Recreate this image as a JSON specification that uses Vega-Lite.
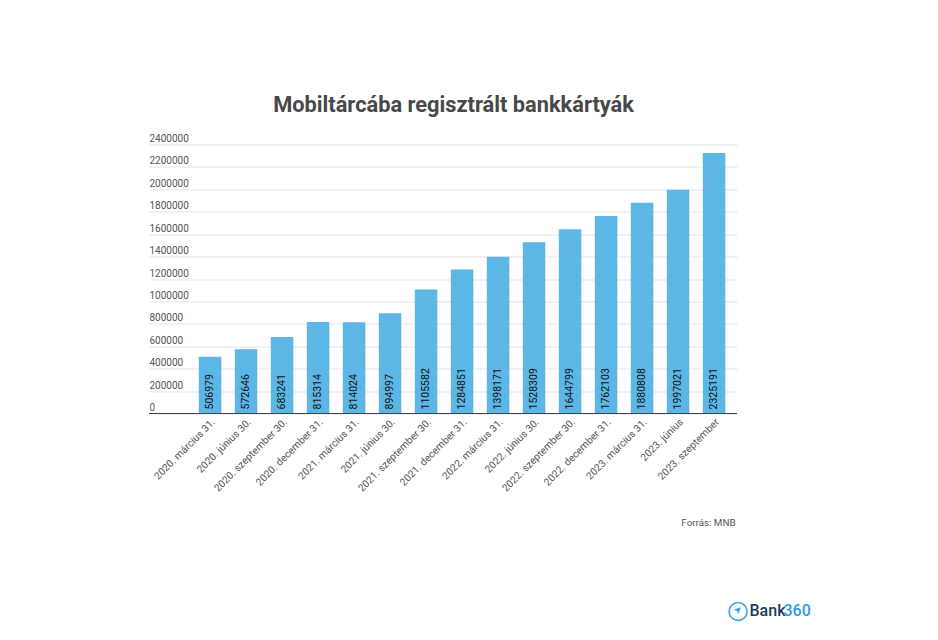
{
  "$schema": "https://vega.github.io/schema/vega-lite/v6.json",
  "autosize": {"type": "none"},
  "padding": {"left": 149, "top": 144.5, "right": 201, "bottom": 226.5},
  "width": 588,
  "height": 269,
  "background": "white",
  "title": {
    "text": "Mobiltárcába regisztrált bankkártyák",
    "font": "Roboto",
    "fontSize": 21.8,
    "fontWeight": "bold",
    "color": "#484848",
    "anchor": "middle",
    "dx": 10.5,
    "offset": 17
  },
  "config": {
    "view": {"stroke": null},
    "font": "Roboto"
  },
  "data": {
    "values": [
      {"datum": "2020. március 31.", "kartyak": 506979},
      {"datum": "2020. június 30.", "kartyak": 572646},
      {"datum": "2020. szeptember 30.", "kartyak": 683241},
      {"datum": "2020. december 31.", "kartyak": 815314},
      {"datum": "2021. március 31.", "kartyak": 814024},
      {"datum": "2021. június 30.", "kartyak": 894997},
      {"datum": "2021. szeptember 30.", "kartyak": 1105582},
      {"datum": "2021. december 31.", "kartyak": 1284851},
      {"datum": "2022. március 31.", "kartyak": 1398171},
      {"datum": "2022. június 30.", "kartyak": 1528309},
      {"datum": "2022. szeptember 30.", "kartyak": 1644799},
      {"datum": "2022. december 31.", "kartyak": 1762103},
      {"datum": "2023. március 31.", "kartyak": 1880808},
      {"datum": "2023. június", "kartyak": 1997021},
      {"datum": "2023. szeptember", "kartyak": 2325191}
    ]
  },
  "resolve": {"axis": {"x": "independent", "y": "independent"}},
  "layer": [
    {
      "mark": {"type": "bar", "color": "#5CB6E6"},
      "encoding": {
        "x": {
          "field": "datum",
          "type": "nominal",
          "sort": null,
          "scale": {"paddingInner": 0.375, "paddingOuter": 0.854, "align": 0.81},
          "axis": {
            "title": "Forrás: MNB",
            "titleFont": "Roboto",
            "titleFontSize": 9.8,
            "titleFontWeight": "normal",
            "titleColor": "#555555",
            "titleAlign": "right",
            "titleBaseline": "alphabetic",
            "titleX": 586,
            "titleY": 112,
            "labelAngle": -45,
            "labelFont": "Roboto",
            "labelFontSize": 10.2,
            "labelColor": "#555555",
            "labelPadding": 3,
            "labelOverlap": false,
            "ticks": false,
            "domain": false
          }
        },
        "y": {
          "field": "kartyak",
          "type": "quantitative",
          "scale": {"domain": [0, 2400000], "nice": false},
          "axis": {
            "title": "Bank",
            "titleFont": "Roboto",
            "titleFontSize": 16,
            "titleFontWeight": 500,
            "titleColor": "#1D3A57",
            "titleAngle": 0,
            "titleAlign": "left",
            "titleBaseline": "alphabetic",
            "titleX": 600,
            "titleY": 470.5,
            "values": [0, 200000, 400000, 600000, 800000, 1000000, 1200000, 1400000, 1600000, 1800000, 2000000, 2200000, 2400000],
            "format": "d",
            "grid": true,
            "gridColor": "#E3E3E3",
            "ticks": false,
            "domain": false,
            "labelAlign": "left",
            "labelBaseline": "bottom",
            "labelPadding": 0,
            "labelFont": "Roboto",
            "labelFontSize": 10,
            "labelColor": "#555555",
            "labelOffset": -1
          }
        }
      }
    },
    {
      "mark": {
        "type": "text",
        "angle": 270,
        "align": "left",
        "baseline": "middle",
        "dx": 4,
        "font": "Roboto",
        "fontSize": 10.5,
        "color": "#111111"
      },
      "encoding": {
        "x": {
          "field": "datum",
          "type": "nominal",
          "sort": null,
          "scale": {"paddingInner": 0.375, "paddingOuter": 0.854, "align": 0.81},
          "axis": {
            "orient": "top",
            "title": "○",
            "titleFont": "DejaVu Sans",
            "titleFontSize": 25,
            "titleFontWeight": "bold",
            "titleColor": "#2E9BE6",
            "titleAlign": "center",
            "titleBaseline": "middle",
            "titleX": 588.5,
            "titleY": 465,
            "labels": false,
            "ticks": false,
            "domain": false
          }
        },
        "y": {
          "datum": 0,
          "type": "quantitative",
          "scale": {"domain": [0, 2400000], "nice": false},
          "axis": {
            "orient": "right",
            "title": "360",
            "titleFont": "Roboto",
            "titleFontSize": 16,
            "titleFontWeight": 500,
            "titleColor": "#2E9BE6",
            "titleAngle": 0,
            "titleAlign": "left",
            "titleBaseline": "alphabetic",
            "titleX": 46,
            "titleY": 470.5,
            "labels": false,
            "ticks": false,
            "domain": false,
            "grid": false
          }
        },
        "text": {"field": "kartyak", "type": "quantitative", "format": "d"}
      }
    },
    {
      "mark": {"type": "rule", "color": "#444444", "strokeWidth": 1},
      "encoding": {
        "y": {
          "datum": 0,
          "type": "quantitative",
          "scale": {"domain": [0, 2400000], "nice": false},
          "axis": {
            "title": "➤",
            "titleFont": "DejaVu Sans",
            "titleFontSize": 10,
            "titleColor": "#2E9BE6",
            "titleAngle": -45,
            "titleAlign": "center",
            "titleBaseline": "middle",
            "titleX": 588.5,
            "titleY": 465,
            "labels": false,
            "ticks": false,
            "domain": false,
            "grid": false
          }
        }
      }
    }
  ]
}
